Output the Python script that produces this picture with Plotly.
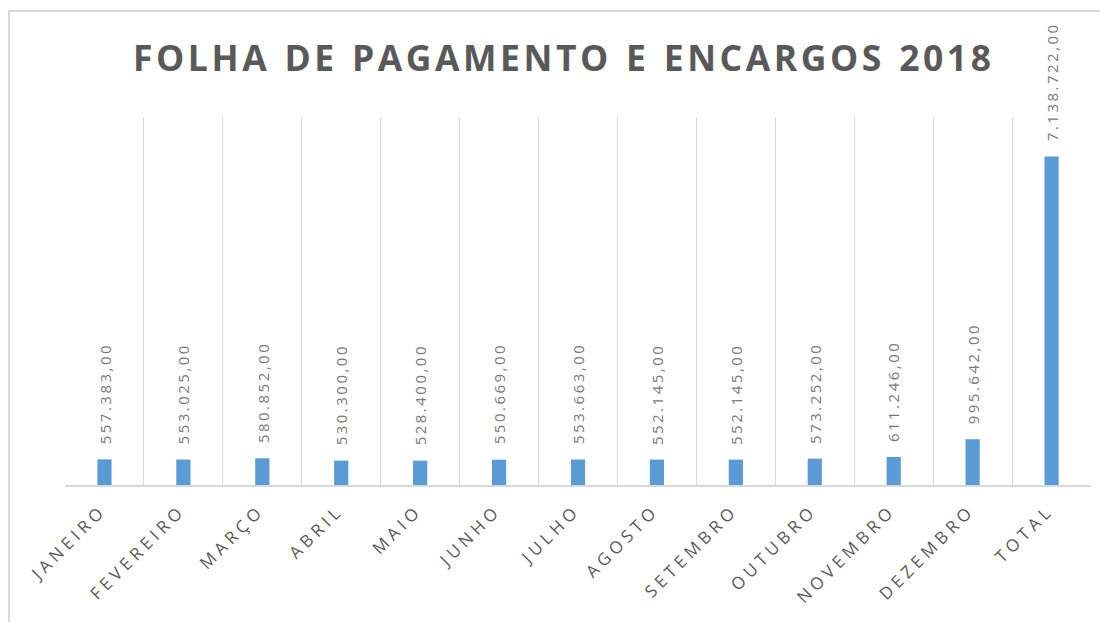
import plotly.graph_objects as go

months = ["JANEIRO", "FEVEREIRO", "MARÇO", "ABRIL", "MAIO", "JUNHO", "JULHO",
          "AGOSTO", "SETEMBRO", "OUTUBRO", "NOVEMBRO", "DEZEMBRO", "TOTAL"]
values = [557383.00, 553025.00, 580852.00, 530300.00, 528400.00, 550669.00, 553663.00,
          552145.00, 552145.00, 573252.00, 611246.00, 995642.00, 7138722.00]
title_text = "FOLHA DE PAGAMENTO E ENCARGOS 2018"

# page body has an 8px margin, so the figure is sized to fit inside the window
OFF = 8
W, H = 1100, 614
ML, MR, MT, MB = 65 - OFF, 17, 117 - OFF, 137

def fmt_br(v):
    s = f"{v:,.2f}"
    return s.replace(",", "X").replace(".", ",").replace("X", ".")

def spaced(s, sep="\u2009"):
    return sep.join(list(s))

fig = go.Figure()
fig.add_trace(go.Bar(
    x=months, y=values,
    marker=dict(color="#5B9BD5", line=dict(width=0)),
    width=0.18,
    hoverinfo="x+y",
))

for m, v in zip(months, values):
    fig.add_annotation(
        x=m, y=v, xref="x", yref="y",
        text=spaced(fmt_br(v)),
        textangle=-90, showarrow=False,
        xanchor="center", yanchor="bottom", yshift=13,
        font=dict(family="Open Sans", size=15, color="#7a7a7a"),
    )

plot_w = W - ML - MR
plot_h = H - MT - MB
bottom_px = H - MB
fig.add_shape(
    type="rect", xref="paper", yref="paper",
    x0=(9 - OFF - ML) / plot_w, x1=(W + 30 - ML) / plot_w,
    y0=(bottom_px - (H + 30)) / plot_h, y1=(bottom_px - (11 - OFF)) / plot_h,
    line=dict(color="#d9d9d9", width=2), fillcolor="rgba(0,0,0,0)", layer="below",
)

fig.update_layout(
    width=W, height=H,
    margin=dict(l=ML, r=MR, t=MT, b=MB, autoexpand=False),
    paper_bgcolor="white", plot_bgcolor="white",
    showlegend=False,
    title=dict(
        text="<b>" + "\u2002".join(spaced(w, "\u200a") for w in title_text.split(" ")) + "</b>",
        x=(562 - OFF - ML) / plot_w, xref="paper", xanchor="center",
        y=(H - (59 - OFF)) / H, yref="container", yanchor="middle",
        font=dict(family="Open Sans", size=35.5, color="#595959"),
    ),
    xaxis=dict(
        type="category",
        tickson="boundaries",
        showgrid=True, gridcolor="#d9d9d9", gridwidth=1,
        showline=True, linecolor="#d9d9d9", linewidth=2,
        ticks="", ticklabelstandoff=10,
        tickangle=-45, ticklabelshift=-6,
        tickmode="array", tickvals=months, ticktext=[spaced(m, " ") for m in months],
        tickfont=dict(family="Open Sans", size=17, color="#595959"),
        range=[-0.5, len(months) - 0.5],
        fixedrange=True,
    ),
    yaxis=dict(
        range=[0, 8000000], showgrid=False, zeroline=False,
        showticklabels=False, showline=False, fixedrange=True,
    ),
)

fig.write_html("out.html")
